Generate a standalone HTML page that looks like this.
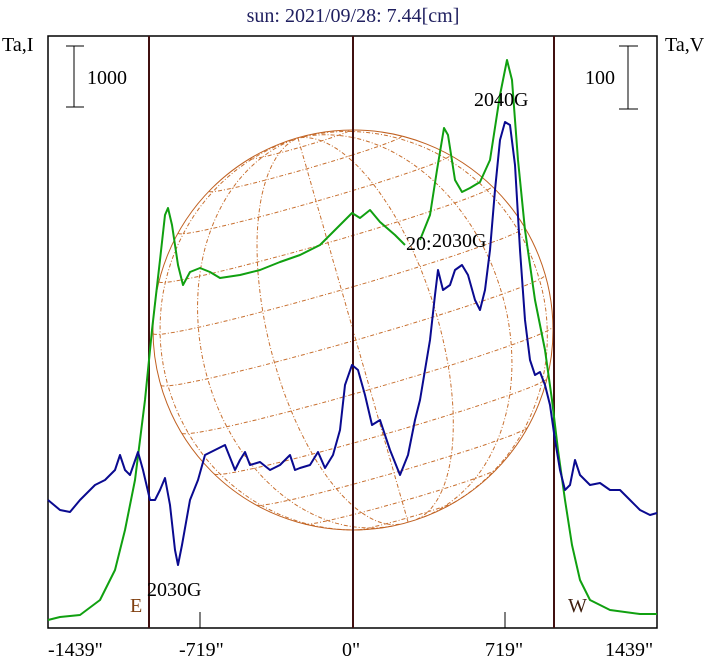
<!DOCTYPE html><html><head><style>body{margin:0;background:#fff}svg{display:block}text{font-family:"Liberation Serif",serif;font-size:20px}</style></head><body>
<svg id="s" width="708" height="662" xmlns="http://www.w3.org/2000/svg">
<text x="353" y="22" text-anchor="middle" fill="#202060">sun: 2021/09/28: 7.44[cm]</text>
<text x="2" y="51" fill="#000">Ta,I</text>
<text x="665" y="51" fill="#000">Ta,V</text>
<g id="grid" fill="none" stroke-width="1"></g>
<circle cx="353" cy="330" r="200" fill="none" stroke="#c06020" stroke-width="1"/>
<rect x="48" y="36" width="609" height="592" fill="none" stroke="#000" stroke-width="1.5"/>
<g stroke="#401010" stroke-width="2"><line x1="149" y1="36" x2="149" y2="628"/><line x1="353" y1="36" x2="353" y2="628"/><line x1="554" y1="36" x2="554" y2="628"/></g>
<g stroke="#000"><line x1="200" y1="612" x2="200" y2="628"/><line x1="505" y1="612" x2="505" y2="628"/>
<line x1="74" y1="46" x2="74" y2="107"/><line x1="66" y1="46" x2="84" y2="46"/><line x1="66" y1="107" x2="84" y2="107"/>
<line x1="628" y1="46" x2="628" y2="109"/><line x1="619" y1="46" x2="638" y2="46"/><line x1="619" y1="109" x2="638" y2="109"/></g>
<text x="87" y="84">1000</text><text x="585" y="84">100</text>
<polyline fill="none" stroke="#10a010" stroke-width="2" stroke-linejoin="round" points="48,620 60,617 80,615 100,600 115,570 125,530 135,480 145,400 152,330 160,260 165,215 168,208 172,225 178,265 183,285 190,272 200,268 210,272 220,278 240,275 260,270 280,262 300,255 320,245 335,230 345,220 352,213 360,218 370,210 380,222 395,235 405,245"/>
<polyline fill="none" stroke="#10a010" stroke-width="2" stroke-linejoin="round" points="420,240 430,215 437,170 444,128 448,135 455,180 462,192 470,188 480,182 490,160 500,95 507,60 512,80 518,160 525,230 535,300 545,350 552,400 558,450 565,500 572,545 580,580 590,600 610,610 640,614 657,614"/>
<polyline fill="none" stroke="#0a0a90" stroke-width="2" stroke-linejoin="round" points="48,500 60,510 70,512 80,500 95,485 105,480 115,470 120,455 125,470 130,475 138,452 143,470 150,500 155,500 160,490 165,478 170,505 175,550 178,565 182,545 190,500 198,480 205,455 215,450 225,445 235,470 240,460 245,452 250,465 260,462 270,470 280,465 290,455 295,470 300,468 310,465 318,452 325,468 333,455 340,430 345,385 352,365 358,370 365,395 372,425 380,420 390,450 400,475 408,455 415,420 420,400 425,370 430,340 435,295 438,270 443,290 450,285 455,270 462,265 468,275 475,300 480,310 485,290 490,250 495,190 500,140 505,122 510,125 515,165 520,250 525,320 530,360 535,375 540,372 545,385 550,405 555,440 560,470 565,490 570,485 575,460 580,475 590,485 600,483 610,490 620,490 630,500 640,510 650,515 657,513"/>
<text x="406" y="250">20:</text><text x="432" y="247">2030G</text>
<text x="474" y="106">2040G</text>
<text x="147" y="596">2030G</text>
<text x="130" y="612" fill="#804010">E</text><text x="568" y="612" fill="#402010">W</text>
<text x="48" y="656">-1439"</text><text x="179" y="656">-719"</text><text x="342" y="656">0"</text><text x="485" y="656">719"</text><text x="605" y="656">1439"</text>
</svg>
<script>
var g=document.getElementById('grid'),cx=353,cy=330,R=200,B=3*Math.PI/180,P=16*Math.PI/180;
function pt(lat,lon){var x=Math.cos(lat)*Math.sin(lon),y=Math.sin(lat),z=Math.cos(lat)*Math.cos(lon);
var y2=y*Math.cos(B)-z*Math.sin(B),z2=y*Math.sin(B)+z*Math.cos(B);
var xr=x*Math.cos(P)-y2*Math.sin(P),yr=x*Math.sin(P)+y2*Math.cos(P);return [cx+R*xr,cy-R*yr,z2];}
function add(pts,col){var d='';var pen=false;pts.forEach(function(p){if(p[2]>=0){d+=(pen?'L':'M')+p[0].toFixed(1)+','+p[1].toFixed(1);pen=true}else pen=false});
var e=document.createElementNS('http://www.w3.org/2000/svg','path');e.setAttribute('d',d);e.setAttribute('stroke',col);e.setAttribute('stroke-dasharray','4,2,1,2');g.appendChild(e);}
var r=Math.PI/180;
for(var lon=-75;lon<=75;lon+=25){var a=[];for(var lat=-90;lat<=90;lat+=3)a.push(pt(lat*r,lon*r));add(a,'#c87030');}
for(var lat=-75;lat<=75;lat+=15){var a=[];for(var lon=-90;lon<=90;lon+=3)a.push(pt(lat*r,lon*r));add(a,'#c87030');}
</script>
</body></html>
